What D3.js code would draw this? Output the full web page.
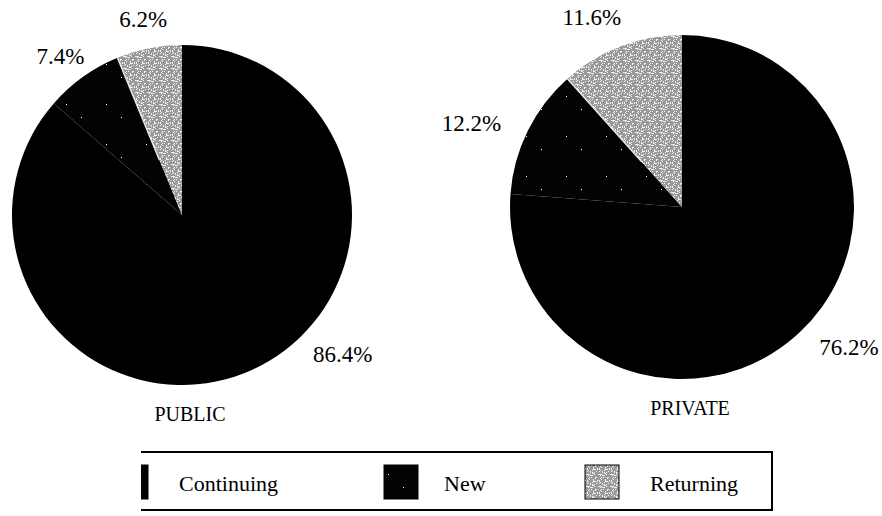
<!DOCTYPE html>
<html>
<head>
<meta charset="utf-8">
<script src="https://cdn.jsdelivr.net/npm/d3@7"></script>
<style>
  body { margin: 0; background: #fff; }
  svg text { font-family: "Liberation Serif", "Times New Roman", serif; fill: #000; }
</style>
</head>
<body>
<div id="container"></div>
<script>
// data
const categories = ['Continuing', 'New', 'Returning'];
const publicValues = [86.4, 7.4, 6.2];
const privateValues = [76.2, 12.2, 11.6];
const chartTitles = ['PUBLIC', 'PRIVATE'];

const width = 882, height = 516;
const svg = d3.select('#container').append('svg')
  .attr('width', width)
  .attr('height', height);

// speckled fills, like the scanned print
const defs = svg.append('defs');
function speckle(id, size, base, dot, n, seed) {
  const p = defs.append('pattern').attr('id', id)
    .attr('patternUnits', 'userSpaceOnUse').attr('width', size).attr('height', size);
  p.append('rect').attr('width', size).attr('height', size).attr('fill', base);
  let s = seed;
  for (let i = 0; i < n; i++) { // deterministic texture only, not data
    s = (s * 9301 + 49297) % 233280;
    const x = Math.floor(s / 233280 * size);
    s = (s * 9301 + 49297) % 233280;
    const y = Math.floor(s / 233280 * size);
    p.append('rect').attr('x', x).attr('y', y).attr('width', 1).attr('height', 1).attr('fill', dot);
  }
}
speckle('fill-new', 40, '#030303', '#ffffff', 2, 7);
speckle('fill-ret', 12, '#9a9a9a', '#f2f2f2', 38, 11);

const fills = d3.scaleOrdinal().domain(categories)
  .range(['#000000', 'url(#fill-new)', 'url(#fill-ret)']);

const pie = d3.pie().sort(null).value(d => d.value);

// label nudges per slice (pixels) for each pie
const charts = [
  { title: chartTitles[0], values: publicValues, cx: 182, cy: 215, r: 170,
    nudge: [[80, -38], [-8, 0], [-1, -4]] },
  { title: chartTitles[1], values: privateValues, cx: 682, cy: 207, r: 172,
    nudge: [[33, -4], [-34, 4], [-20, -5]] }
];

charts.forEach(c => {
  const g = svg.append('g').attr('transform', `translate(${c.cx},${c.cy})`);
  const data = categories.map((k, i) => ({ key: k, value: c.values[i] }));
  const arcs = pie(data);
  const arc = d3.arc().innerRadius(0).outerRadius(c.r);
  const labelArc = d3.arc().innerRadius(c.r + 25).outerRadius(c.r + 25);

  g.selectAll('path.slice').data(arcs).join('path')
    .attr('class', 'slice')
    .attr('d', arc)
    .attr('fill', d => fills(d.data.key));

  // thin light seam where the returning slice starts
  const ret = arcs[2];
  g.append('line')
    .attr('x1', Math.sin(ret.startAngle) * c.r * 0.35)
    .attr('y1', -Math.cos(ret.startAngle) * c.r * 0.35)
    .attr('x2', Math.sin(ret.startAngle) * c.r)
    .attr('y2', -Math.cos(ret.startAngle) * c.r)
    .attr('stroke', '#e8e8e8').attr('stroke-width', 1.5);

  g.selectAll('text.pct').data(arcs).join('text')
    .attr('class', 'pct')
    .attr('transform', (d, i) => {
      const p = labelArc.centroid(d);
      return `translate(${p[0] + c.nudge[i][0]},${p[1] + c.nudge[i][1]})`;
    })
    .attr('text-anchor', 'middle')
    .attr('dominant-baseline', 'central')
    .style('font-size', '23px')
    .text(d => d3.format('.1f')(d.data.value) + '%');

  g.append('text')
    .attr('x', 8).attr('y', c.r + 36)
    .attr('text-anchor', 'middle')
    .style('font-size', '20px')
    .text(c.title);
});

// legend box, left side cut off like the scan
const legend = svg.append('g');
const lx0 = 141, lx1 = 772, ly0 = 452, ly1 = 510;
legend.append('path')
  .attr('d', `M${lx0},${ly0}H${lx1}V${ly1}H${lx0}`)
  .attr('fill', 'none').attr('stroke', '#000').attr('stroke-width', 2);

defs.append('clipPath').attr('id', 'legclip')
  .append('rect').attr('x', lx0).attr('y', ly0).attr('width', lx1 - lx0).attr('height', ly1 - ly0);

const legPos = [114, 384, 585];
const item = legend.append('g').attr('clip-path', 'url(#legclip)')
  .selectAll('g').data(categories).join('g')
  .attr('transform', (d, i) => `translate(${legPos[i]},465)`);
item.append('rect')
  .attr('width', 34).attr('height', 34)
  .attr('fill', d => fills(d))
  .attr('stroke', '#000').attr('stroke-width', 1);
item.append('text')
  .attr('x', (d, i) => i === 1 ? 60 : 65).attr('y', 18)
  .attr('dominant-baseline', 'central')
  .style('font-size', '22px')
  .text(d => d);
</script>
</body>
</html>
